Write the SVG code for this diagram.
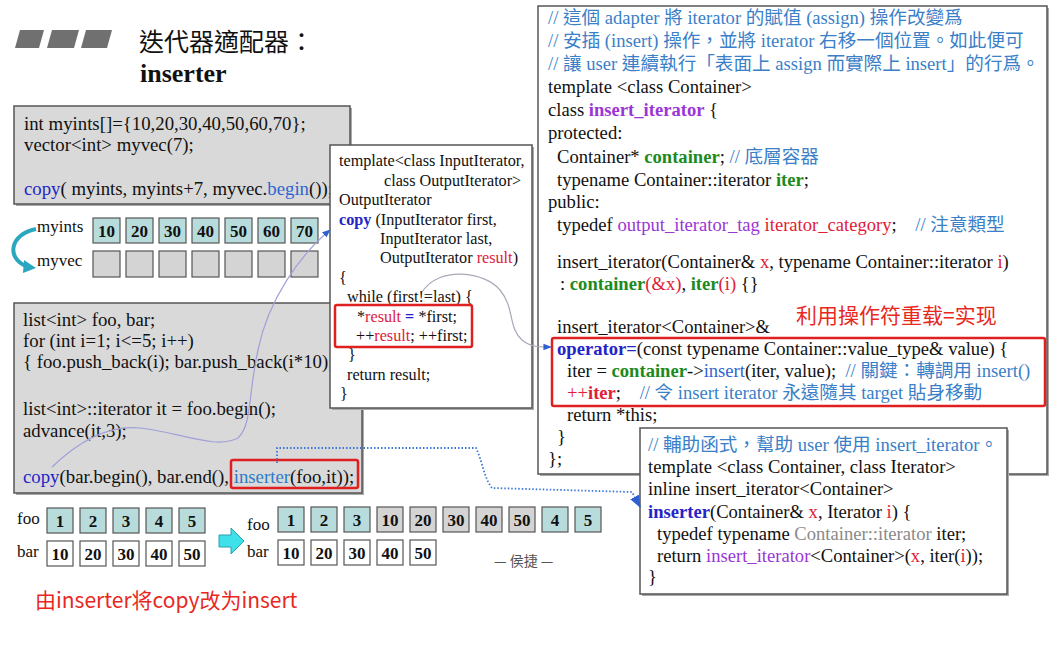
<svg xmlns="http://www.w3.org/2000/svg" width="1054" height="657" viewBox="0 0 1054 657">
<defs>
<style>
.code{font-family:"Liberation Serif","Noto Sans CJK TC",serif;font-size:18.6px;fill:#111;white-space:pre}
.lcode{font-size:18.8px}
.mid{font-family:"Liberation Serif","Noto Sans CJK TC",serif;font-size:16.2px;fill:#111}
.cm{fill:#3a7fc8}
.kb{fill:#2424c8}
.bl{fill:#2f66d0}
.lb{fill:#2c7bc9}
.pu{fill:#9a36d6}
.gr{fill:#1d8a1d;font-weight:bold}
.rd{fill:#e0203a}
.gy{fill:#8a8a8a}
.b{font-weight:bold}
.box{fill:#fff;stroke:#555;stroke-width:1.5}
.gbox{fill:#d9d9d9;stroke:#555;stroke-width:1.5}
.shadow{fill:#aaa}
.redbox{fill:none;stroke:#e02020;stroke-width:2.5}
.cellT{fill:#b8dcdc;stroke:#555;stroke-width:1.2}
.cellG{fill:#d4d4d4;stroke:#555;stroke-width:1.2}
.cellW{fill:#fff;stroke:#555;stroke-width:1.2}
.num{font-family:"Liberation Serif",serif;font-size:17px;font-weight:bold;fill:#111;text-anchor:middle}
.lbl{font-family:"Liberation Serif",serif;font-size:17px;fill:#111}
.redtxt{font-family:"Noto Sans CJK SC",sans-serif;font-size:21px;fill:#e8281e}
</style>
<marker id="ah" viewBox="0 0 10 10" refX="9" refY="5" markerWidth="7" markerHeight="7" orient="auto">
<path d="M0,1 L10,5 L0,9 z" fill="#2f5fd0"/>
</marker>
</defs>
<rect width="1054" height="657" fill="#fff"/>

<g id="title">
<polygon points="20,30 44,30 39,48 15,48" fill="#707070"/>
<polygon points="52,30 79,30 74,48 47,48" fill="#707070"/>
<polygon points="86,30 112,30 107,48 81,48" fill="#707070"/>
<text x="139" y="51" font-family="Noto Sans CJK TC,sans-serif" font-size="25" fill="#111">迭代器適配器：</text>
<text x="140" y="82" font-family="Liberation Serif,serif" font-size="26" font-weight="bold" fill="#111">inserter</text>
</g>

<g id="box1">
<rect x="16" y="108" width="336" height="98" class="shadow"/>
<rect x="14" y="106" width="336" height="98" class="gbox"/>
<text class="code lcode" x="24" y="130">int myints[]={10,20,30,40,50,60,70};</text>
<text class="code lcode" x="24" y="151">vector&lt;int&gt; myvec(7);</text>
<text class="code lcode" x="24" y="195"><tspan class="kb">copy</tspan>( myints, myints+7, myvec.<tspan class="bl">begin</tspan>());</text>
</g>

<g id="arrays1">
<path d="M36,229 C10,234 6,258 26,266" fill="none" stroke="#2aa6bf" stroke-width="4"/>
<polygon points="24,260 36,268 23,273" fill="#2aa6bf"/>
<text class="lbl" x="37" y="232">myints</text>
<text class="lbl" x="37" y="266">myvec</text>
<rect class="cellT" x="93" y="218" width="27" height="25"/><text class="num" x="106.5" y="237">10</text>
<rect class="cellT" x="126" y="218" width="27" height="25"/><text class="num" x="139.5" y="237">20</text>
<rect class="cellT" x="159" y="218" width="27" height="25"/><text class="num" x="172.5" y="237">30</text>
<rect class="cellT" x="192" y="218" width="27" height="25"/><text class="num" x="205.5" y="237">40</text>
<rect class="cellT" x="225" y="218" width="27" height="25"/><text class="num" x="238.5" y="237">50</text>
<rect class="cellT" x="258" y="218" width="27" height="25"/><text class="num" x="271.5" y="237">60</text>
<rect class="cellT" x="291" y="218" width="27" height="25"/><text class="num" x="304.5" y="237">70</text>
<rect class="cellG" x="93" y="251" width="27" height="26"/>
<rect class="cellG" x="126" y="251" width="27" height="26"/>
<rect class="cellG" x="159" y="251" width="27" height="26"/>
<rect class="cellG" x="192" y="251" width="27" height="26"/>
<rect class="cellG" x="225" y="251" width="27" height="26"/>
<rect class="cellG" x="258" y="251" width="27" height="26"/>
<rect class="cellG" x="291" y="251" width="27" height="26"/>
</g>

<g id="box2">
<rect x="16" y="305" width="348" height="190" class="shadow"/>
<rect x="14" y="303" width="348" height="190" class="gbox"/>
<text class="code lcode" x="23" y="326">list&lt;int&gt; foo, bar;</text>
<text class="code lcode" x="23" y="347">for (int i=1; i&lt;=5; i++)</text>
<text class="code lcode" x="23" y="368">{ foo.push_back(i); bar.push_back(i*10); }</text>
<text class="code lcode" x="23" y="415">list&lt;int&gt;::iterator it = foo.begin();</text>
<text class="code lcode" x="23" y="437">advance(it,3);</text>
<text class="code lcode" x="23" y="483"><tspan class="kb">copy</tspan>(bar.begin(), bar.end(), <tspan class="lb">inserter</tspan>(foo,it));</text>
<rect x="231" y="460" width="127" height="28" rx="2" class="redbox"/>
</g>

<g id="copydef">
<rect x="332" y="147" width="202" height="263" class="shadow"/>
<rect x="330" y="145" width="202" height="263" class="box"/>
<text class="mid" x="339" y="166">template&lt;class InputIterator,</text>
<text class="mid" x="384" y="186">class OutputIterator&gt;</text>
<text class="mid" x="339" y="205">OutputIterator</text>
<text class="mid" x="339" y="225"><tspan class="kb b">copy</tspan> (InputIterator first,</text>
<text class="mid" x="380" y="244">InputIterator last,</text>
<text class="mid" x="380" y="263">OutputIterator <tspan class="rd">result</tspan>)</text>
<text class="mid" x="339" y="283">{</text>
<text class="mid" x="347" y="302">while (first!=last) {</text>
<text class="mid" x="357" y="322">*<tspan class="rd">result</tspan> <tspan class="kb b">=</tspan> *first;</text>
<text class="mid" x="356" y="341">++<tspan class="rd">result</tspan>; ++first;</text>
<text class="mid" x="348" y="360">}</text>
<text class="mid" x="347" y="380">return result;</text>
<text class="mid" x="340" y="399">}</text>
<rect x="335" y="305" width="137" height="42" rx="2" class="redbox"/>
</g>

<g id="insert_iterator">
<rect x="540" y="8" width="509" height="468" class="shadow"/>
<rect x="538" y="6" width="509" height="468" class="box"/>
<text class="code cm" x="548" y="24">// 這個 adapter 將 iterator 的賦值 (assign) 操作改變爲</text>
<text class="code cm" x="548" y="47">// 安插 (insert) 操作，並將 iterator 右移一個位置。如此便可</text>
<text class="code cm" x="548" y="70">// 讓 user 連續執行「表面上 assign 而實際上 insert」的行爲。</text>
<text class="code" x="548" y="93">template &lt;class Container&gt;</text>
<text class="code" x="548" y="116">class <tspan class="pu b">insert_iterator</tspan> {</text>
<text class="code" x="548" y="139">protected:</text>
<text class="code" x="557" y="163">Container* <tspan class="gr">container</tspan>; <tspan class="cm">// 底層容器</tspan></text>
<text class="code" x="557" y="186">typename Container::iterator <tspan class="gr">iter</tspan>;</text>
<text class="code" x="548" y="208">public:</text>
<text class="code" x="557" y="231">typedef <tspan class="pu">output_iterator_tag</tspan> <tspan class="rd">iterator_category</tspan>;    <tspan class="cm">// 注意類型</tspan></text>
<text class="code" x="557" y="268">insert_iterator(Container&amp; <tspan class="rd">x</tspan>, typename Container::iterator <tspan class="rd">i</tspan>)</text>
<text class="code" x="560" y="290">: <tspan class="gr">container</tspan><tspan class="rd">(&amp;x)</tspan>, <tspan class="gr">iter</tspan><tspan class="rd">(i)</tspan> {}</text>
<text class="code" x="557" y="333">insert_iterator&lt;Container&gt;&amp;</text>
<text class="code" x="557" y="355"><tspan class="kb b">operator=</tspan>(const typename Container::value_type&amp; value) {</text>
<text class="code" x="567" y="377">iter = <tspan class="gr">container</tspan>-&gt;<tspan class="bl">insert</tspan>(iter, value);  <tspan class="cm">// 關鍵：轉調用 insert()</tspan></text>
<text class="code" x="567" y="399"><tspan class="rd">++</tspan><tspan class="rd b">iter</tspan>;    <tspan class="cm">// 令 insert iterator 永遠隨其 target 貼身移動</tspan></text>
<text class="code" x="567" y="421">return *this;</text>
<text class="code" x="557" y="443">}</text>
<text class="code" x="548" y="465">};</text>
<rect x="552" y="338" width="493" height="68" rx="2" class="redbox"/>
<text class="redtxt" x="796" y="323" font-size="22">利用操作符重载=实现</text>
</g>

<g id="inserterdef">
<rect x="642" y="430" width="367" height="166" class="shadow"/>
<rect x="640" y="428" width="367" height="166" class="box"/>
<text class="code cm" x="648" y="451">// 輔助函式，幫助 user 使用 insert_iterator。</text>
<text class="code" x="648" y="473">template &lt;class Container, class Iterator&gt;</text>
<text class="code" x="648" y="495">inline insert_iterator&lt;Container&gt;</text>
<text class="code" x="648" y="518"><tspan class="kb b">inserter</tspan>(Container&amp; <tspan class="rd">x</tspan>, Iterator <tspan class="rd">i</tspan>) {</text>
<text class="code" x="657" y="540">typedef typename <tspan class="gy">Container::iterator</tspan> iter;</text>
<text class="code" x="657" y="562">return <tspan class="pu">insert_iterator</tspan>&lt;Container&gt;(<tspan class="rd">x</tspan>, iter(<tspan class="rd">i</tspan>));</text>
<text class="code" x="648" y="583">}</text>
</g>

<g id="arrays2">
<text class="lbl" x="17" y="524">foo</text>
<text class="lbl" x="17" y="557">bar</text>
<rect class="cellT" x="47" y="508" width="26" height="25"/><text class="num" x="60" y="527">1</text>
<rect class="cellT" x="80" y="508" width="26" height="25"/><text class="num" x="93" y="527">2</text>
<rect class="cellT" x="113" y="508" width="26" height="25"/><text class="num" x="126" y="527">3</text>
<rect class="cellT" x="146" y="508" width="26" height="25"/><text class="num" x="159" y="527">4</text>
<rect class="cellT" x="179" y="508" width="26" height="25"/><text class="num" x="192" y="527">5</text>
<rect class="cellW" x="47" y="541" width="26" height="25"/><text class="num" x="60" y="560">10</text>
<rect class="cellW" x="80" y="541" width="26" height="25"/><text class="num" x="93" y="560">20</text>
<rect class="cellW" x="113" y="541" width="26" height="25"/><text class="num" x="126" y="560">30</text>
<rect class="cellW" x="146" y="541" width="26" height="25"/><text class="num" x="159" y="560">40</text>
<rect class="cellW" x="179" y="541" width="26" height="25"/><text class="num" x="192" y="560">50</text>
<polygon points="219,535 231,535 231,528 244,541 231,554 231,547 219,547" fill="#3ee0ea" stroke="#2a9fb0" stroke-width="1"/>
<text class="lbl" x="247" y="530">foo</text>
<text class="lbl" x="247" y="557">bar</text>
<rect class="cellT" x="278" y="507" width="26" height="25"/><text class="num" x="291" y="526">1</text>
<rect class="cellT" x="311" y="507" width="26" height="25"/><text class="num" x="324" y="526">2</text>
<rect class="cellT" x="344" y="507" width="26" height="25"/><text class="num" x="357" y="526">3</text>
<rect class="cellG" x="377" y="507" width="26" height="25"/><text class="num" x="390" y="526">10</text>
<rect class="cellG" x="410" y="507" width="26" height="25"/><text class="num" x="423" y="526">20</text>
<rect class="cellG" x="443" y="507" width="26" height="25"/><text class="num" x="456" y="526">30</text>
<rect class="cellG" x="476" y="507" width="26" height="25"/><text class="num" x="489" y="526">40</text>
<rect class="cellG" x="509" y="507" width="26" height="25"/><text class="num" x="522" y="526">50</text>
<rect class="cellT" x="542" y="507" width="26" height="25"/><text class="num" x="555" y="526">4</text>
<rect class="cellT" x="575" y="507" width="26" height="25"/><text class="num" x="588" y="526">5</text>
<rect class="cellW" x="278" y="540" width="26" height="25"/><text class="num" x="291" y="559">10</text>
<rect class="cellW" x="311" y="540" width="26" height="25"/><text class="num" x="324" y="559">20</text>
<rect class="cellW" x="344" y="540" width="26" height="25"/><text class="num" x="357" y="559">30</text>
<rect class="cellW" x="377" y="540" width="26" height="25"/><text class="num" x="390" y="559">40</text>
<rect class="cellW" x="410" y="540" width="26" height="25"/><text class="num" x="423" y="559">50</text>
<text x="494" y="566" font-family="Noto Sans CJK TC,sans-serif" font-size="14" fill="#555">— 侯捷 —</text>
</g>

<text class="redtxt" x="35" y="608">由inserter将copy改为insert</text>

<g id="connectors" fill="none">
<path d="M52,467 C80,440 110,425 140,428 C180,432 215,450 238,438 C252,425 248,395 258,350 C268,300 300,255 330,230" stroke="#a0a0d8" stroke-width="1.2" marker-end="url(#ah)"/>
<path d="M422,292 C440,265 485,272 500,290 C515,308 508,328 522,340 C532,348 542,347 551,347" stroke="#a8a8b8" stroke-width="1.2" marker-end="url(#ah)"/>
<path d="M277,463 L277,448 L476,448 C482,460 484,478 492,488 L632,492 L640,507" stroke="#3a78d8" stroke-width="1.8" stroke-dasharray="1.5,2" marker-end="url(#ah)"/>
</g>
</svg>
